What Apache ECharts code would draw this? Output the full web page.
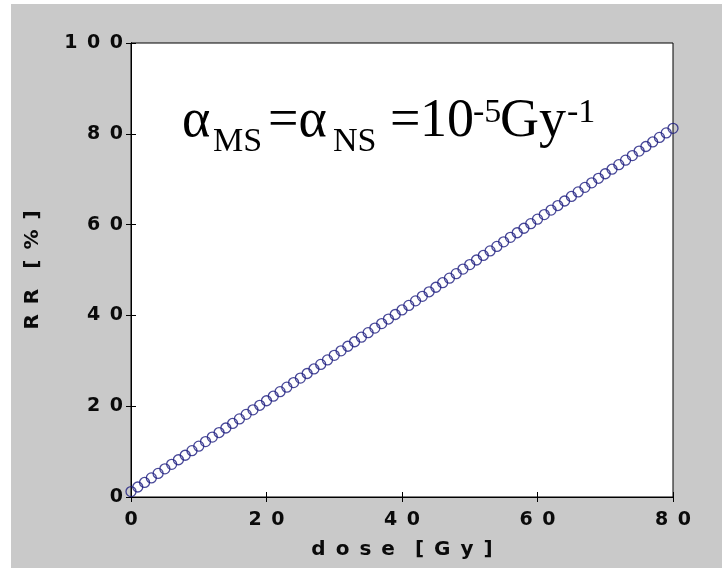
<!DOCTYPE html>
<html>
<head>
<meta charset="utf-8">
<script src="https://cdn.jsdelivr.net/npm/echarts@6/dist/echarts.min.js"></script>
<style>
html,body{margin:0;padding:0;background:#ffffff;width:722px;height:568px;overflow:hidden;}
#chart{position:absolute;left:11px;top:4px;width:711px;height:564px;background:#c9c9c9;}
</style>
</head>
<body>
<div id="chart"></div>
<script>
// Data
const doses = [0,1,2,3,4,5,6,7,8,9,10,11,12,13,14,15,16,17,18,19,20,21,22,23,24,25,26,27,28,29,30,31,32,33,34,35,36,37,38,39,40,41,42,43,44,45,46,47,48,49,50,51,52,53,54,55,56,57,58,59,60,61,62,63,64,65,66,67,68,69,70,71,72,73,74,75,76,77,78,79,80];
const rrValues = [1.2,2.2,3.2,4.2,5.2,6.2,7.2,8.2,9.2,10.2,11.2,12.2,13.2,14.2,15.2,16.2,17.2,18.2,19.2,20.2,21.2,22.2,23.2,24.2,25.2,26.2,27.2,28.2,29.2,30.2,31.2,32.2,33.2,34.2,35.2,36.2,37.2,38.2,39.2,40.2,41.2,42.2,43.2,44.2,45.2,46.2,47.2,48.2,49.2,50.2,51.2,52.2,53.2,54.2,55.2,56.2,57.2,58.2,59.2,60.2,61.2,62.2,63.2,64.2,65.2,66.2,67.2,68.2,69.2,70.2,71.2,72.2,73.2,74.2,75.2,76.2,77.2,78.2,79.2,80.2,81.2];
const xTicks = [0,20,40,60,80];
const yTicks = [0,20,40,60,80,100];
const xTitle = 'dose [Gy]';
const yTitle = 'RR [%]';
// annotation pieces: text and kind (main / sub / sup)
const annoText = ['α', 'MS', '=α', 'NS', '=', '10', '-5', 'Gy', '-1'];
const annoKind = ['main', 'sub', 'main', 'sub', 'main', 'main', 'sup', 'main', 'sup'];

const SP = '\u2002';
const spaced = s => String(s).split('').filter(c => c !== ' ').join(SP).replace(/\[/g, SP + '[');

// layout of the annotation (pixels, relative to chart div)
const annoX = [171, 202, 257, 322, 379, 409, 462, 489, 556];
const kindStyle = {
  main: {size: 54, cy: 118},
  sub:  {size: 34, cy: 138.5},
  sup:  {size: 34, cy: 109.5}
};

const chart = echarts.init(document.getElementById('chart'));
const labelFont = {fontFamily: 'DejaVu Sans', fontWeight: 'bold', fontSize: 19, color: '#0a0a0a'};
const titleFont = {fontFamily: 'DejaVu Sans', fontWeight: 'bold', fontSize: 20, color: '#0a0a0a'};
const option = {
  backgroundColor: '#c9c9c9',
  animation: false,
  grid: {left: 120, top: 39, right: 49, bottom: 71, show: true, backgroundColor: '#ffffff', borderColor: '#000', borderWidth: 1},
  xAxis: [{
    type: 'value', min: xTicks[0], max: xTicks[xTicks.length-1], interval: 20,
    axisLine: {show: true, lineStyle: {color: '#000', width: 1}},
    axisTick: {inside: true, length: 5, lineStyle: {color: '#000'}},
    axisLabel: Object.assign({margin: 14, formatter: v => spaced(v)}, labelFont),
    splitLine: {show: false},
    name: spaced(xTitle), nameLocation: 'middle', nameGap: 43,
    nameTextStyle: titleFont
  }, {
    type: 'value', position: 'top', min: 0, max: 80, interval: 20,
    axisLine: {show: true, lineStyle: {color: '#000'}},
    axisTick: {inside: true, length: 5, lineStyle: {color: '#000'}},
    axisLabel: {show: false}, splitLine: {show: false}
  }],
  yAxis: [{
    type: 'value', min: yTicks[0], max: yTicks[yTicks.length-1], interval: 20,
    axisLine: {show: true, lineStyle: {color: '#000', width: 1}},
    axisTick: {inside: true, length: 5, lineStyle: {color: '#000'}},
    axisLabel: Object.assign({margin: 8, formatter: v => spaced(v)}, labelFont),
    splitLine: {show: false},
    name: spaced(yTitle), nameLocation: 'middle', nameGap: 88, nameRotate: 90,
    nameTextStyle: titleFont
  }, {
    type: 'value', position: 'right', min: 0, max: 100, interval: 20,
    axisLine: {show: true, lineStyle: {color: '#000'}},
    axisTick: {inside: true, length: 5, lineStyle: {color: '#000'}},
    axisLabel: {show: false}, splitLine: {show: false}
  }],
  series: [{
    type: 'scatter',
    xAxisIndex: 0, yAxisIndex: 0,
    data: doses.map((d, i) => [d, rrValues[i]]),
    symbol: 'circle', symbolSize: 10,
    itemStyle: {color: 'rgba(0,0,0,0)', borderColor: '#1a1a7e', borderWidth: 1.3},
    clip: false
  }],
  graphic: annoText.map((t, i) => ({
    type: 'text', x: annoX[i], y: kindStyle[annoKind[i]].cy, z: 100,
    style: {
      text: t,
      font: kindStyle[annoKind[i]].size + 'px "Liberation Serif"',
      fill: '#000',
      align: 'left',
      verticalAlign: 'middle'
    }
  }))
};
chart.setOption(option);
</script>
</body>
</html>
